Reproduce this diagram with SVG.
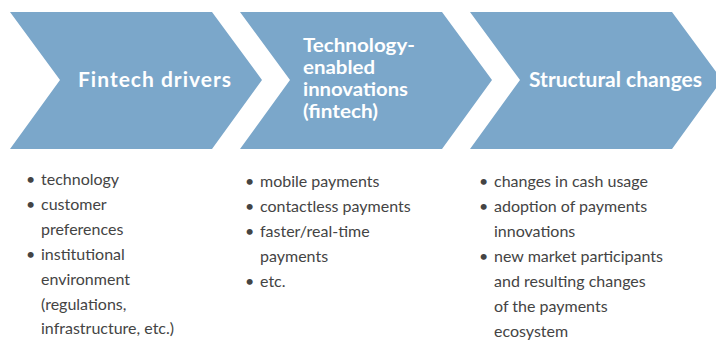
<svg xmlns="http://www.w3.org/2000/svg" width="716" height="345" viewBox="0 0 716 345">
<style>
.chev{fill:#7ba7ca}
.ttl{font-family:Lato,"Liberation Sans",sans-serif;font-weight:bold;font-size:21px;fill:#ffffff}
.ttl2{font-size:19px}
.itm{font-family:Lato,"Liberation Sans",sans-serif;font-size:16px;fill:#444444}
</style>
<rect width="716" height="345" fill="#ffffff"/>
<g id="node-drivers">
<polygon class="chev" points="10,12 212,12 262,80 212,149 10,149 60,80"/>
<text class="ttl" x="78" y="87" textLength="153" lengthAdjust="spacing">Fintech drivers</text>
</g>
<g id="node-innovations">
<polygon class="chev" points="240,12 442,12 492,80 442,149 240,149 290,80"/>
<text class="ttl ttl2" x="303" y="52" textLength="112" lengthAdjust="spacingAndGlyphs">Technology-</text>
<text class="ttl ttl2" x="303" y="74" textLength="72" lengthAdjust="spacingAndGlyphs">enabled</text>
<text class="ttl ttl2" x="303" y="96" textLength="105" lengthAdjust="spacingAndGlyphs">innovations</text>
<text class="ttl ttl2" x="303" y="118" textLength="75" lengthAdjust="spacingAndGlyphs">(fintech)</text>
</g>
<g id="node-changes">
<polygon class="chev" points="470,12 672,12 722,80 672,149 470,149 520,80"/>
<text class="ttl" x="529" y="87" textLength="173" lengthAdjust="spacing">Structural changes</text>
</g>
<g id="connectors"></g>
<g id="list-drivers" class="itm">
<text x="26" y="185">•</text><text x="41" y="185">technology</text>
<text x="26" y="210">•</text><text x="41" y="210">customer</text>
<text x="41" y="235">preferences</text>
<text x="26" y="260">•</text><text x="41" y="260">institutional</text>
<text x="41" y="285">environment</text>
<text x="41" y="310">(regulations,</text>
<text x="41" y="334">infrastructure, etc.)</text>
</g>
<g id="list-innovations" class="itm">
<text x="245" y="187">•</text><text x="260" y="187">mobile payments</text>
<text x="245" y="212">•</text><text x="260" y="212">contactless payments</text>
<text x="245" y="237">•</text><text x="260" y="237">faster/real-time</text>
<text x="260" y="262">payments</text>
<text x="245" y="287">•</text><text x="260" y="287">etc.</text>
</g>
<g id="list-changes" class="itm">
<text x="479" y="187">•</text><text x="494" y="187">changes in cash usage</text>
<text x="479" y="212">•</text><text x="494" y="212">adoption of payments</text>
<text x="494" y="237">innovations</text>
<text x="479" y="262">•</text><text x="494" y="262">new market participants</text>
<text x="494" y="287">and resulting changes</text>
<text x="494" y="312">of the payments</text>
<text x="494" y="337">ecosystem</text>
</g>
</svg>
